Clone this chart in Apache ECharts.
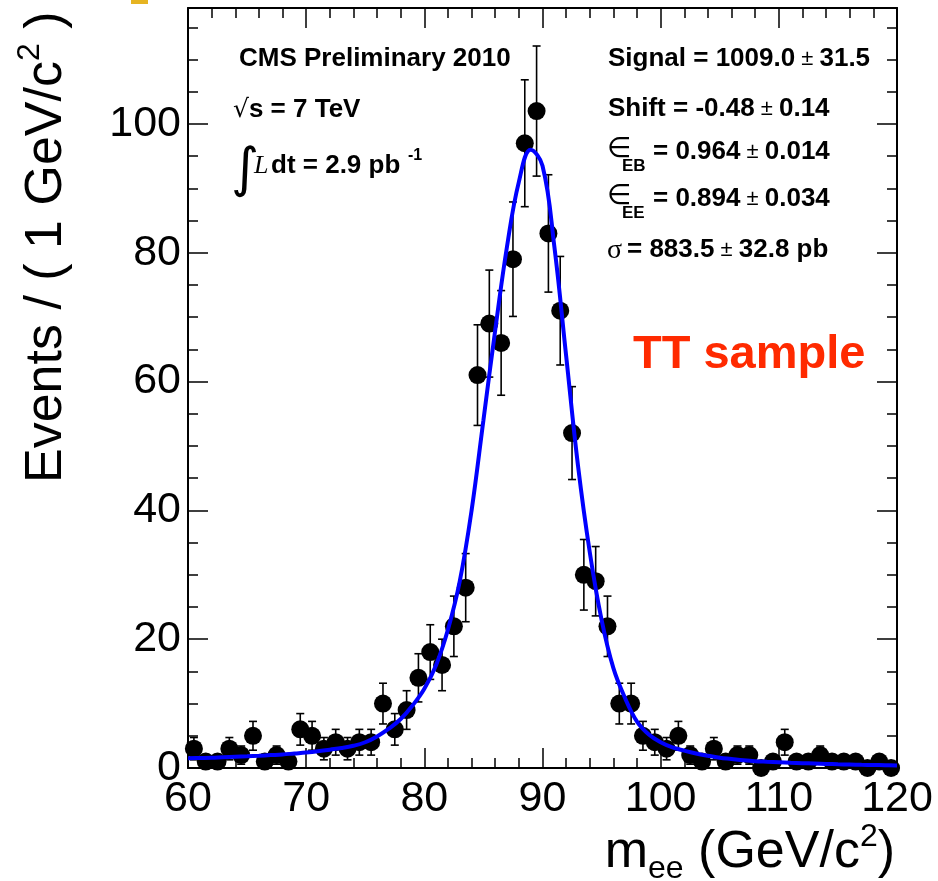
<!DOCTYPE html>
<html><head><meta charset="utf-8">
<script src="https://cdn.jsdelivr.net/npm/echarts@6/dist/echarts.min.js"></script>
<style>html,body{margin:0;padding:0;background:#fff}#c{width:938px;height:881px}</style>
</head><body><div id="c"></div>
<script>
// ---- data ----
const binCenters = [60.5,61.5,62.5,63.5,64.5,65.5,66.5,67.5,68.5,69.5,
  70.5,71.5,72.5,73.5,74.5,75.5,76.5,77.5,78.5,79.5,
  80.5,81.5,82.5,83.5,84.5,85.5,86.5,87.5,88.5,89.5,
  90.5,91.5,92.5,93.5,94.5,95.5,96.5,97.5,98.5,99.5,
  100.5,101.5,102.5,103.5,104.5,105.5,106.5,107.5,108.5,109.5,
  110.5,111.5,112.5,113.5,114.5,115.5,116.5,117.5,118.5,119.5];
const counts = [3,1,1,3,2,5,1,2,1,6,
  5,3,4,3,4,4,10,6,9,14,
  18,16,22,28,61,69,66,79,97,102,
  83,71,52,30,29,22,10,10,5,4,
  3,5,2,1,3,1,2,2,0,1,
  4,1,1,2,1,1,1,0,1,0];
const fitMass = [60,61,62,63,64,65,66,67,68,69,70,71,72,73,74,75,76,77,78,79,
  80,81,82,83,84,85,86,87,88,89,90,91,92,93,94,95,96,97,98,99,
  100,101,102,103,104,105,106,107,108,109,110,111,112,113,114,115,116,117,118,119,120];
const fitValues = [1.5,1.55,1.6,1.68,1.75,1.82,1.9,2.0,2.1,2.25,2.4,2.6,2.85,3.1,3.45,4.0,4.9,6.1,7.6,9.7,
  12.3,16,21.5,29,40,54,68,81,91,96,93.5,81,64,47,33.5,23,15.5,10.8,7.2,5.2,
  4.0,3.2,2.7,2.25,1.9,1.6,1.4,1.2,1.05,0.97,0.9,0.82,0.75,0.69,0.63,0.58,0.54,0.5,0.47,0.43,0.4];
const xTickLabels = [60,70,80,90,100,110,120];
const yTickLabels = [0,20,40,60,80,100];

// Poisson (sqrt N) uncertainties of the counts
const countErrors = counts.map(n => Math.sqrt(n));

const F = '"Liberation Sans", Arial, Helvetica, sans-serif';
const chart = echarts.init(document.getElementById('c'));

const rect = {left:188, right:41, top:8, bottom:113};
const black = '#000';
function xAx(grid, pos, interval, len, labels, line){
  return {type:'value', gridIndex:grid, position:pos, min:60, max:120, interval:interval,
    axisLine:{show:line, onZero:false, lineStyle:{color:black, width:2}},
    axisTick:{show:true, inside:true, length:len, lineStyle:{color:black, width:1.5}},
    axisLabel:{show:labels, fontSize:43, fontFamily:F, color:black, margin:10,
      formatter: v => xTickLabels.indexOf(v) >= 0 ? String(v) : ''},
    splitLine:{show:false}};
}
function yAx(grid, pos, interval, len, labels, line){
  return {type:'value', gridIndex:grid, position:pos, min:0, max:118, interval:interval,
    axisLine:{show:line, onZero:false, lineStyle:{color:black, width:2}},
    axisTick:{show:true, inside:true, length:len, lineStyle:{color:black, width:1.5}},
    axisLabel:{show:labels, fontSize:43, fontFamily:F, color:black, margin:7,
      formatter: v => yTickLabels.indexOf(v) >= 0 ? String(v) : ''},
    splitLine:{show:false}};
}
const B = {fontFamily:F, fontWeight:'bold', fontSize:26, fill:black};
const PM = {fontFamily:F, fontSize:22, fill:black};

const option = {
  animation:false,
  backgroundColor:'#fff',
  grid:[Object.assign({}, rect), Object.assign({}, rect)],
  xAxis:[xAx(0,'bottom',10,20,true,true), xAx(0,'top',10,20,false,true),
         xAx(1,'bottom',2,10,false,false), xAx(1,'top',2,10,false,false)],
  yAxis:[yAx(0,'left',20,20,true,true), yAx(0,'right',20,20,false,true),
         yAx(1,'left',5,10,false,false), yAx(1,'right',5,10,false,false)],
  series:[
    {type:'custom', xAxisIndex:0, yAxisIndex:0, z:2, clip:false,
     data: binCenters.map((x,i)=>[x, counts[i], countErrors[i]]),
     encode:{x:0, y:1},
     renderItem:function(params, api){
       const x = api.value(0), y = api.value(1), e = api.value(2);
       if (!(e > 0)) return null;
       const t = api.coord([x, y+e]);
       const b = api.coord([x, Math.max(0, y-e)]);
       const c = 4, st = {stroke:black, lineWidth:1.6};
       return {type:'group', children:[
         {type:'line', shape:{x1:t[0], y1:t[1], x2:b[0], y2:b[1]}, style:st},
         {type:'line', shape:{x1:t[0]-c, y1:t[1], x2:t[0]+c, y2:t[1]}, style:st},
         {type:'line', shape:{x1:b[0]-c, y1:b[1], x2:b[0]+c, y2:b[1]}, style:st}
       ]};
     }},
    {type:'scatter', xAxisIndex:0, yAxisIndex:0, z:3, clip:false,
     symbol:'circle', symbolSize:18, itemStyle:{color:black, opacity:1},
     data: binCenters.map((x,i)=>[x, counts[i]])},
    {type:'line', xAxisIndex:0, yAxisIndex:0, z:4, smooth:0.4,
     showSymbol:false, symbol:'none', lineStyle:{color:'#0000ff', width:4},
     data: fitMass.map((x,i)=>[x, fitValues[i]])}
  ],
  graphic:[
    {type:'rect', shape:{x:131, y:0, width:17, height:4}, style:{fill:'#e6b422'}},
    // y axis title
    {type:'text', x:47, y:483, rotation:Math.PI/2, style:{
      text:'{a|Events / ( 1 GeV/c}{p|2}{a| )}', align:'left', verticalAlign:'middle',
      rich:{a:{fontFamily:F, fontSize:52, lineHeight:66, fill:black, verticalAlign:'middle'},
            p:{fontFamily:F, fontSize:32, lineHeight:34, fill:black, verticalAlign:'top'}}}},
    // x axis title
    {type:'text', x:895, y:853, style:{
      text:'{a|m}{s|ee}{a| (GeV/c}{p|2}{a|)}', align:'right', verticalAlign:'middle',
      rich:{a:{fontFamily:F, fontSize:52, lineHeight:64, fill:black, verticalAlign:'middle'},
            s:{fontFamily:F, fontSize:32, lineHeight:34, fill:black, verticalAlign:'bottom'},
            p:{fontFamily:F, fontSize:32, lineHeight:34, fill:black, verticalAlign:'top'}}}},
    // left annotations
    {type:'text', x:239, y:59, style:{text:'CMS Preliminary 2010', font:'bold 26px '+F, fill:black, verticalAlign:'middle'}},
    {type:'text', x:233, y:110, style:{text:'{r|√}{b|s = 7 TeV}', verticalAlign:'middle',
      rich:{r:{fontFamily:'"DejaVu Sans"', fontSize:25, fill:black}, b:B}}},
    {type:'text', x:231, y:172, style:{text:'∫', font:'54px "DejaVu Sans"', fill:black, verticalAlign:'middle'}},
    {type:'text', x:254, y:166, style:{text:'L', font:'italic 26px "Liberation Serif"', fill:black, verticalAlign:'middle'}},
    {type:'text', x:271, y:166, style:{text:'dt = 2.9 pb', font:'bold 26px '+F, fill:black, verticalAlign:'middle'}},
    {type:'text', x:408, y:156, style:{text:'-1', font:'bold 16px '+F, fill:black, verticalAlign:'middle'}},
    // right annotations
    {type:'text', x:608, y:59, style:{text:'{b|Signal = 1009.0}{p| ± }{b|31.5}', verticalAlign:'middle', rich:{b:B, p:PM}}},
    {type:'text', x:608, y:109, style:{text:'{b|Shift = -0.48}{p| ± }{b|0.14}', verticalAlign:'middle', rich:{b:B, p:PM}}},
    {type:'text', x:607, y:150, style:{text:'∈', font:'28px "DejaVu Sans"', fill:black, verticalAlign:'middle'}},
    {type:'text', x:622, y:166, style:{text:'EB', font:'bold 17px '+F, fill:black, verticalAlign:'middle'}},
    {type:'text', x:653, y:152, style:{text:'{b|= 0.964}{p| ± }{b|0.014}', verticalAlign:'middle', rich:{b:B, p:PM}}},
    {type:'text', x:607, y:197, style:{text:'∈', font:'28px "DejaVu Sans"', fill:black, verticalAlign:'middle'}},
    {type:'text', x:622, y:213, style:{text:'EE', font:'bold 17px '+F, fill:black, verticalAlign:'middle'}},
    {type:'text', x:653, y:199, style:{text:'{b|= 0.894}{p| ± }{b|0.034}', verticalAlign:'middle', rich:{b:B, p:PM}}},
    {type:'text', x:607, y:251, style:{text:'σ', font:'28px "Liberation Serif"', fill:black, verticalAlign:'middle'}},
    {type:'text', x:627, y:250, style:{text:'{b|= 883.5}{p| ± }{b|32.8 pb}', verticalAlign:'middle', rich:{b:B, p:PM}}},
    {type:'text', x:633, y:355, style:{text:'TT sample', font:'bold 47px '+F, fill:'#ff2a00', verticalAlign:'middle'}}
  ]
};
chart.setOption(option);
</script>
</body></html>
